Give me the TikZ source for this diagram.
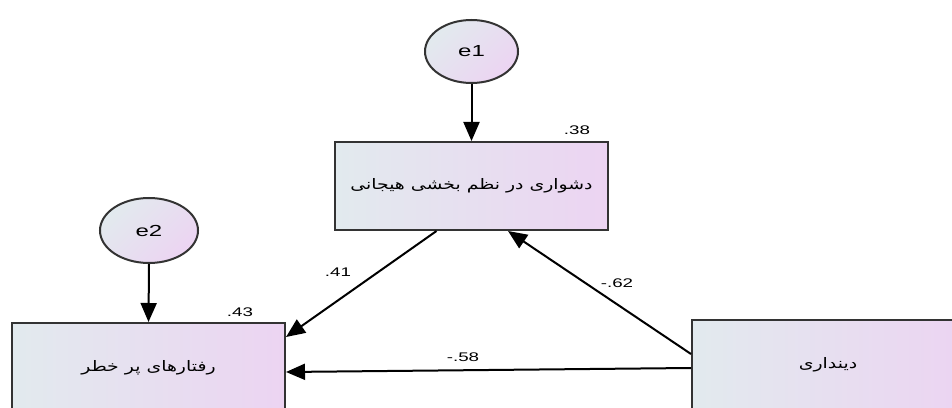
\documentclass[tikz,border=0pt]{standalone}
\usepackage{fontspec}
\setmainfont[FakeStretch=1.5]{Liberation Sans}
\newfontfamily\farsifont[Script=Arabic,FakeStretch=1.3]{DejaVu Sans}
\TeXXeTstate=1
\usetikzlibrary{shapes.geometric}
\usetikzlibrary{arrows.meta}

\definecolor{amosleft}{RGB}{226,234,238}
\definecolor{amosright}{RGB}{236,212,242}

\tikzset{
  varbox/.style={draw=black!80, line width=2pt, left color=amosleft, right color=amosright,
    minimum width=273pt, minimum height=88pt, inner sep=0pt, font=\farsifont\fontsize{14.5}{16}\selectfont},
  errnode/.style={ellipse, draw=black!80, line width=2pt, shading=axis, left color=amosleft,
    right color=amosright, shading angle=45, inner sep=0pt, font=\fontsize{16}{18}\selectfont},
  pathedge/.style={line width=2pt, -{Triangle[length=19pt,width=16pt]}},
  coef/.style={font=\fontsize{12.5}{14}\selectfont}
}

\begin{document}
\begin{tikzpicture}[x=1pt,y=1pt]
\useasboundingbox (0,0) rectangle (952,407);
\clip (0,0) rectangle (952,407);

% Draw error terms
\node[errnode, minimum width=93pt, minimum height=63pt] (e1) at (471.5,355.5) {e1};
\node[errnode, minimum width=98pt, minimum height=65pt] (e2) at (149,176.5) {e2};

% Draw observed variables
\node[varbox] (emo) at (471.5,221) {\beginR دشواری در نظم بخشی هیجانی\endR};
\node[varbox, minimum height=90pt] (risk) at (148.5,39) {\beginR رفتارهای پر خطر\endR};
\node[varbox, minimum width=272pt, minimum height=90pt] (rel) at (828,42) {\beginR دینداری\endR};

% Draw paths
\draw[pathedge] (e1.south) -- (emo.north);
\draw[pathedge] (e2.south) -- (risk.north);
\draw[pathedge] ([xshift=-35pt]emo.south) -- ([yshift=31pt]risk.east);
\draw[pathedge] ([yshift=11pt]rel.west) -- ([xshift=36.5pt]emo.south);
\draw[pathedge] ([yshift=-3pt]rel.west) -- ([yshift=-4pt]risk.east);

% Draw coefficients
\node[coef] (r2emo) at (577,277) {.38};
\node[coef] (r2risk) at (240,95) {.43};
\node[coef] (bemo) at (338,135) {.41};
\node[coef] (brelemo) at (617,124) {-.62};
\node[coef] (brelrisk) at (463,50) {-.58};

\end{tikzpicture}
\end{document}
